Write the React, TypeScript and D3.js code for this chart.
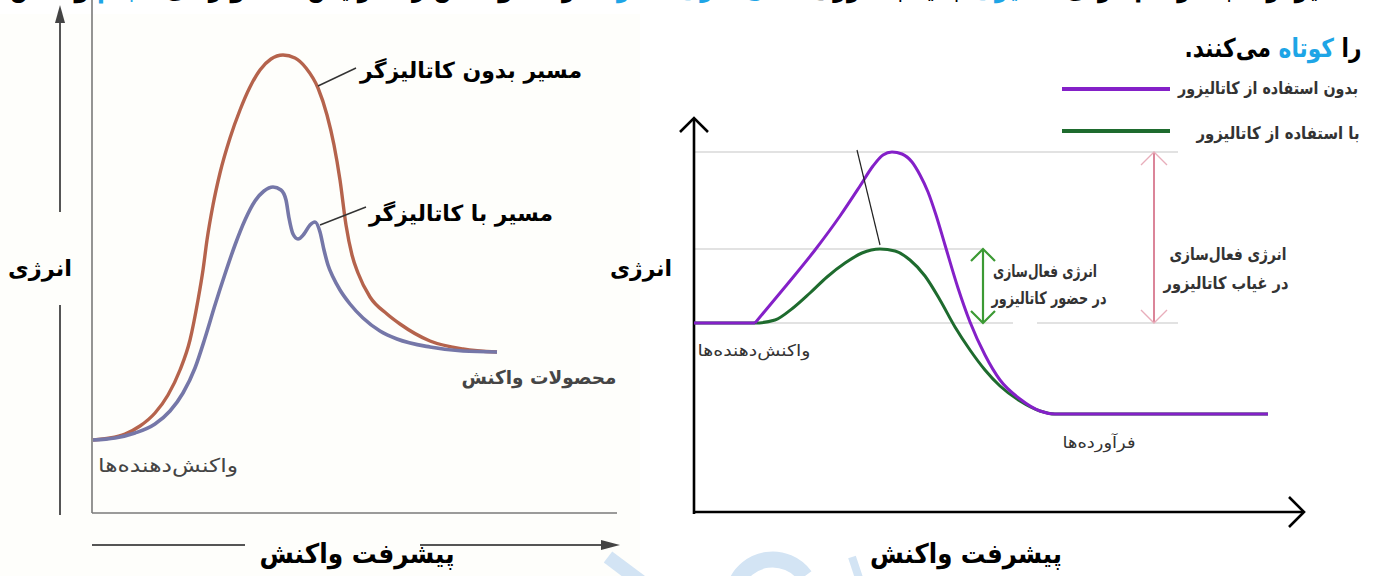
import { scaleLinear, line, curveMonotoneX, curveLinear } from 'd3';

// [progress, energy] pairs
const leftNoCatalyst: [number, number][] = [
  [0, 14.6], [3.4, 15], [6.4, 15.8], [9.4, 17.4], [12.4, 20], [15, 23.6], [17.4, 28.6],
  [19.4, 34.6], [21, 42.6], [22, 48.6], [22.8, 54.6], [24, 61.6], [25.4, 68], [27.4, 75],
  [29.4, 80.6], [31.4, 85.2], [33.4, 88.6], [35.6, 90.8], [38, 91.6], [40.4, 91], [42.6, 89],
  [45, 85], [46.8, 79.6], [48.2, 73.6], [49.4, 66.6], [50.6, 57.6], [51.8, 51.6], [53, 48],
  [55.4, 43.2], [58.8, 39.8], [61.4, 37.8], [67.4, 34.4], [74, 32.8], [80.8, 32.2],
];

const leftWithCatalyst: [number, number][] = [
  [0, 14.6], [4.4, 15], [8.4, 16], [12.4, 17.8], [15.4, 20.4], [18, 24], [20.4, 29],
  [22.4, 35], [24.4, 41.6], [26.4, 47.8], [28.4, 53.6], [30.4, 58.6], [32.4, 62.4], [34.2, 64.4],
  [36, 65.2], [37.6, 64.6], [38.6, 62.6], [39.2, 59], [40, 55.8], [41, 54.8],
  [42.2, 55.8], [43.4, 57.6], [44.4, 58.2], [45.4, 56.2], [46.2, 52.6], [47, 49.6], [48, 47.2],
  [49.4, 44.6], [51.4, 41.8], [54, 39], [57.4, 36.4], [60.8, 34.8], [67.4, 33.2], [74, 32.4],
  [80.8, 32.2],
];

const rightNoCatalyst: [number, number][] = [
  [0, 38], [12.2, 38], [18.2, 45.2], [24.2, 52.6], [29.2, 59.4], [33.2, 65.4], [35.8, 69.4],
  [37.8, 71.6], [39.6, 72.2], [41.6, 71.8], [43.6, 70.2], [45.2, 67.6], [46.8, 64.2],
  [48.4, 59.6], [50.2, 53.6], [52.8, 45], [55.2, 38.2], [58.2, 31.6], [61.2, 26.6],
  [65.2, 22.8], [69.2, 20.4], [72.2, 19.8], [114.8, 19.8],
];

const rightWithCatalyst: [number, number][] = [
  [0, 38], [12.2, 38], [16.2, 38.6], [19.8, 41], [23.2, 44], [26.6, 47.2], [30.2, 50],
  [33.6, 52], [37.2, 52.8], [40.2, 52.4], [43.2, 50.6], [46.2, 47.4], [49.2, 42.6], [52.2, 37.2],
  [55.2, 32.6], [58.2, 28.6], [61.2, 25.4], [65.2, 22.4], [69.2, 20.4], [72.2, 19.8], [114.8, 19.8],
];

// energy levels on the right diagram: uncatalysed peak, catalysed peak, reactants
const energyLevels = [72.2, 52.8, 38];
// progress where the activation-energy arrows stand
const eaArrowAt = [57.8, 92];

const FONT = '"DejaVu Sans", sans-serif';

const xL = scaleLinear().domain([0, 100]).range([93, 593]);
const yL = scaleLinear().domain([0, 100]).range([513, 13]);
const xR = scaleLinear().domain([0, 100]).range([694, 1194]);
const yR = scaleLinear().domain([0, 100]).range([513, 13]);

const lineL = line<[number, number]>()
  .x((d) => xL(d[0]))
  .y((d) => yL(d[1]))
  .curve(curveMonotoneX);
const lineR = line<[number, number]>()
  .x((d) => xR(d[0]))
  .y((d) => yR(d[1]))
  .curve(curveMonotoneX);
const straightR = line<[number, number]>()
  .x((d) => xR(d[0]))
  .y((d) => yR(d[1]))
  .curve(curveLinear);

const Label = ({ x, y, w, size, weight = 'bold', fill = '#000', children }: any) => (
  <text
    x={x}
    y={y}
    fontSize={size}
    fontWeight={weight}
    fill={fill}
    fontFamily={FONT}
    textAnchor="middle"
    dominantBaseline="central"
    direction="rtl"
    textLength={w}
    lengthAdjust="spacingAndGlyphs"
  >
    {children}
  </text>
);

const chevronUp = (x: number, y: number, s: number) =>
  `M${x - s},${y + s} L${x},${y} L${x + s},${y + s}`;
const chevronDown = (x: number, y: number, s: number) =>
  `M${x - s},${y - s} L${x},${y} L${x + s},${y - s}`;

export default function App() {
  const [topE, midE, baseE] = energyLevels;
  const [greenX, pinkX] = eaArrowAt;
  // the uncatalysed path leaves the reactant plateau with a sharp corner
  const purpleFlat = rightNoCatalyst.slice(0, 2);
  const purpleRest = rightNoCatalyst.slice(1);
  return (
    <svg
      width={1377}
      height={576}
      style={{ position: 'absolute', left: 0, top: 0, display: 'block', background: '#fff' }}
    >
      {/* clipped paragraph line at the very top */}
      <text
        x={1368}
        y={-3}
        fontSize={26}
        fontWeight="bold"
        fontFamily={FONT}
        direction="rtl"
        textAnchor="start"
        textLength={1358}
        lengthAdjust="spacingAndGlyphs"
      >
        کاتالیزگرها با فراهم کردن <tspan fill="#1ea5e6">مسیری</tspan> جدید با انرژی{' '}
        <tspan fill="#1ea5e6">فعال‌سازی کمتر</tspan>، سرعت واکنش را افزایش داده و زمان{' '}
        <tspan fill="#1ea5e6">انجام</tspan> واکنش
      </text>

      {/* ---------- left diagram ---------- */}
      <rect x={0} y={14} width={640} height={562} fill="#fefefb" />
      <line x1={92} y1={0} x2={92} y2={513} stroke="#7a7a7a" strokeWidth={1.6} />
      <line x1={92} y1={513} x2={617} y2={513} stroke="#7a7a7a" strokeWidth={1.6} />

      <line x1={60} y1={20} x2={60} y2={212} stroke="#555" strokeWidth={2} />
      <line x1={60} y1={305} x2={60} y2={515} stroke="#555" strokeWidth={2} />
      <path d="M60,5 L55,23 L65,23 Z" fill="#444" />
      <line x1={92} y1={545} x2={245} y2={545} stroke="#555" strokeWidth={2} />
      <line x1={420} y1={545} x2={603} y2={545} stroke="#555" strokeWidth={2} />
      <path d="M620,545 L601,540 L601,550 Z" fill="#444" />

      <path d={lineL(leftNoCatalyst) ?? ''} fill="none" stroke="#b5634c" strokeWidth={3.4} />
      <path d={lineL(leftWithCatalyst) ?? ''} fill="none" stroke="#7577a8" strokeWidth={3.6} />

      <line x1={xL(45)} y1={yL(85.4)} x2={356} y2={68} stroke="#333" strokeWidth={1.4} />
      <line x1={xL(45.4)} y1={yL(57.6)} x2={366} y2={207} stroke="#333" strokeWidth={1.4} />

      <Label x={40} y={268} w={64} size={22}>انرژی</Label>
      <Label x={471} y={70} w={222} size={22}>مسیر بدون کاتالیزگر</Label>
      <Label x={461} y={213} w={184} size={22}>مسیر با کاتالیزگر</Label>
      <Label x={539} y={377} w={155} size={19} fill="#454545">محصولات واکنش</Label>
      <Label x={168} y={465} w={140} size={19} fill="#444" weight="normal">واکنش‌دهنده‌ها</Label>
      <Label x={357} y={553} w={195} size={27}>پیشرفت واکنش</Label>

      {/* ---------- right diagram ---------- */}
      <Label x={1273} y={48} w={177} size={26}>
        را <tspan fill="#1ea5e6">کوتاه</tspan> می‌کنند.
      </Label>

      <line x1={1062} y1={89} x2={1170} y2={89} stroke="#8420c8" strokeWidth={4} />
      <line x1={1062} y1={131} x2={1170} y2={131} stroke="#1e6b2e" strokeWidth={4} />
      <Label x={1268} y={88} w={180} size={17} fill="#333">بدون استفاده از کاتالیزور</Label>
      <Label x={1278} y={133} w={163} size={17} fill="#333">با استفاده از کاتالیزور</Label>

      <line x1={xR(0)} y1={yR(topE)} x2={1178} y2={yR(topE)} stroke="#c6c6c6" strokeWidth={1.2} />
      <line x1={xR(0)} y1={yR(midE)} x2={xR(greenX)} y2={yR(midE)} stroke="#c6c6c6" strokeWidth={1.2} />
      <line x1={xR(0)} y1={yR(baseE)} x2={1013} y2={yR(baseE)} stroke="#c6c6c6" strokeWidth={1.2} />
      <line x1={1037} y1={yR(baseE)} x2={1178} y2={yR(baseE)} stroke="#c6c6c6" strokeWidth={1.2} />

      <line x1={694} y1={118} x2={694} y2={514} stroke="#000" strokeWidth={2.6} />
      <path d={chevronUp(694, 118, 14)} fill="none" stroke="#000" strokeWidth={2.6} />
      <line x1={693} y1={512} x2={1304} y2={512} stroke="#000" strokeWidth={2.6} />
      <path d="M1289,497 L1304,512 L1289,527" fill="none" stroke="#000" strokeWidth={2.6} />

      <path d={lineR(rightWithCatalyst) ?? ''} fill="none" stroke="#1e6b2e" strokeWidth={3} />
      <path d={straightR(purpleFlat) ?? ''} fill="none" stroke="#8420c8" strokeWidth={3} />
      <path
        d={lineR(purpleRest) ?? ''}
        fill="none"
        stroke="#8420c8"
        strokeWidth={3}
        strokeLinejoin="round"
      />

      <line x1={xR(32.6)} y1={yR(72.6)} x2={xR(37.2)} y2={yR(53.6)} stroke="#222" strokeWidth={1.2} />

      <line x1={xR(greenX)} y1={yR(midE)} x2={xR(greenX)} y2={yR(baseE)} stroke="#3c9a34" strokeWidth={2.2} />
      <path d={chevronUp(xR(greenX), yR(midE), 12)} fill="none" stroke="#3c9a34" strokeWidth={2.2} />
      <path d={chevronDown(xR(greenX), yR(baseE), 12)} fill="none" stroke="#3c9a34" strokeWidth={2.2} />

      <line x1={xR(pinkX)} y1={yR(topE)} x2={xR(pinkX)} y2={yR(baseE)} stroke="#d7788e" strokeWidth={1.8} />
      <path d={chevronUp(xR(pinkX), yR(topE), 13)} fill="none" stroke="#e8aebb" strokeWidth={1.4} />
      <path d={chevronDown(xR(pinkX), yR(baseE), 13)} fill="none" stroke="#e8aebb" strokeWidth={1.4} />

      <Label x={1045} y={271} w={104} size={17} fill="#333">انرژی فعال‌سازی</Label>
      <Label x={1049} y={298} w={115} size={17} fill="#333">در حضور کاتالیزور</Label>
      <Label x={1228} y={254} w={117} size={17} fill="#333">انرژی فعال‌سازی</Label>
      <Label x={1226} y={283} w={125} size={17} fill="#333">در غیاب کاتالیزور</Label>

      <Label x={754} y={350} w={113} size={16} fill="#333" weight="normal">واکنش‌دهنده‌ها</Label>
      <Label x={1099} y={442} w={73} size={16} fill="#333" weight="normal">فرآورده‌ها</Label>

      <Label x={641} y={268} w={62} size={22}>انرژی</Label>
      <Label x={966} y={553} w={192} size={27}>پیشرفت واکنش</Label>

      {/* faint watermark pieces along the bottom edge */}
      <path d="M608,557 L644,584" stroke="#d3e4f4" strokeWidth={14} fill="none" />
      <path d="M735,586 A40,40 0 0 1 805,576" stroke="#d3e4f4" strokeWidth={16} fill="none" />
      <path d="M852,557 L861,584" stroke="#d3e4f4" strokeWidth={8} fill="none" />
    </svg>
  );
}
